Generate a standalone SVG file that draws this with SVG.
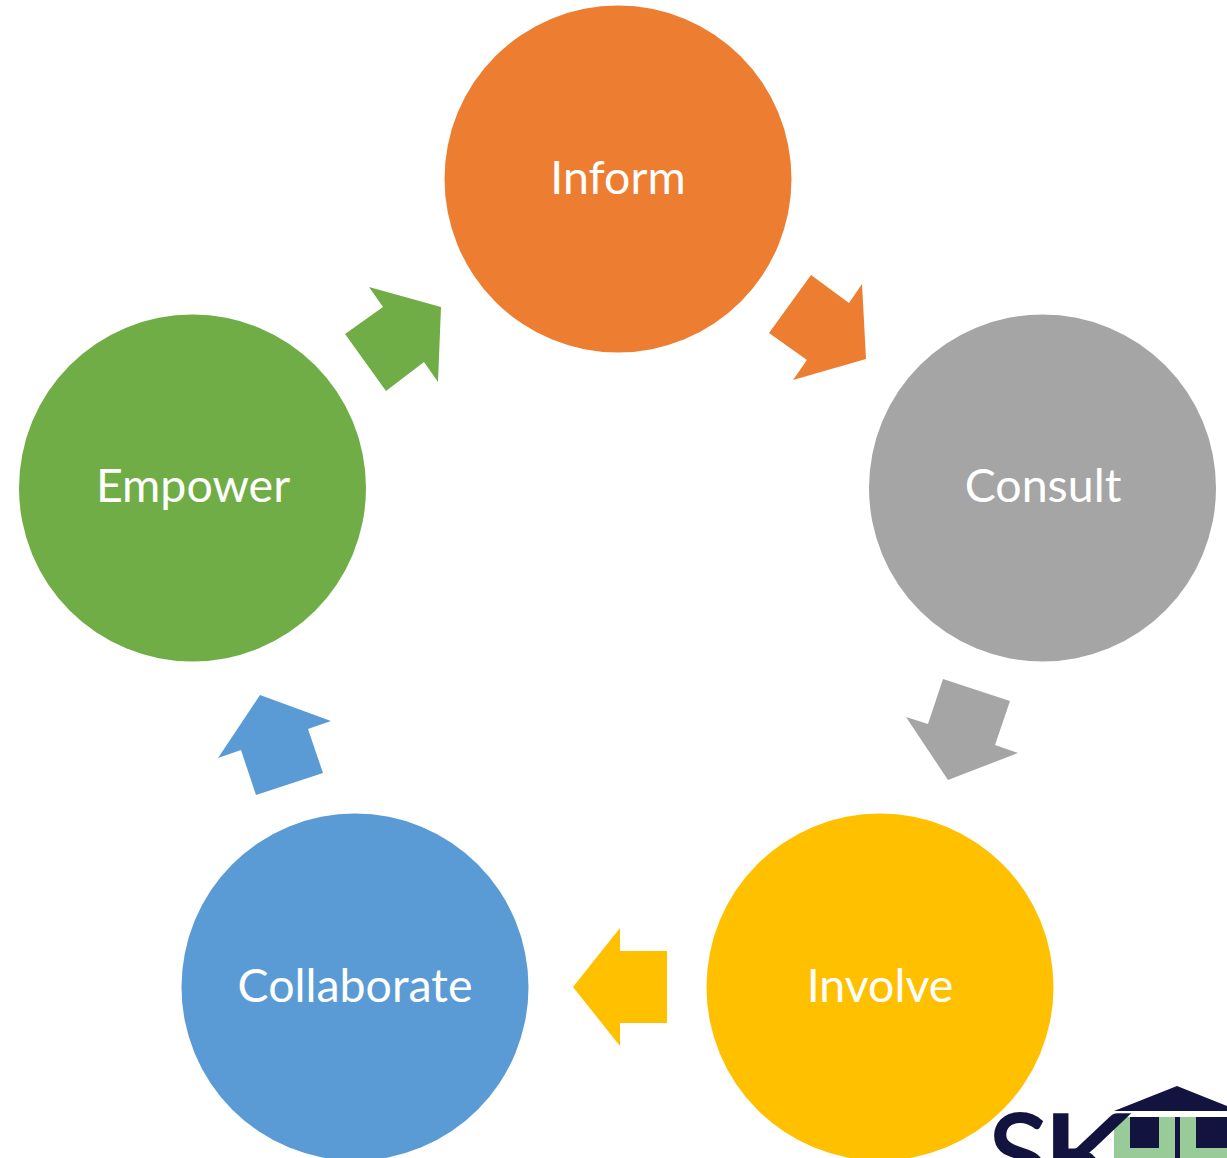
<svg xmlns="http://www.w3.org/2000/svg" width="1227" height="1158" viewBox="0 0 1227 1158">
<style>
.l{font-family:Lato,"Open Sans",sans-serif;font-size:46.500px;fill:#fff;text-anchor:middle}
.navy{fill:#12143f}
.sk{font-family:Lato,sans-serif;font-size:112px;font-weight:400;stroke:#12143f;stroke-width:2px}
</style>
<rect width="1227" height="1158" fill="#fff"/>
<g id="connectors">
<polygon fill="#ed7d31" points="811,275 849,303 862,284 866,359 793,380 807,360 769,333"/>
<polygon fill="#a5a5a5" points="943,679 1010,701 995,745 1018,753 948,780 906,717 928,724"/>
<polygon fill="#ffc000" points="667,951 667,1023 620,1023 620,1046 573,987 620,928 620,951"/>
<polygon fill="#5b9bd5" points="323,773 256,795 241,750 218,758 260,695 331,721 308,729"/>
<polygon fill="#70ad47" points="345,334 383,307 369,287 441,307 438,382 424,362 386,391"/>
</g>
<g id="inform"><circle cx="618" cy="179" r="173.500" fill="#ed7d31"/><text class="l" x="618" y="194">Inform</text></g>
<g id="consult"><circle cx="1042.500" cy="488" r="173.500" fill="#a5a5a5"/><text class="l" x="1043" y="502">Consult</text></g>
<g id="involve"><circle cx="880" cy="987" r="173.500" fill="#ffc000"/><text class="l" x="880" y="1002">Involve</text></g>
<g id="collaborate"><circle cx="355" cy="987" r="173.500" fill="#5b9bd5"/><text class="l" x="355" y="1002">Collaborate</text></g>
<g id="empower"><circle cx="192.500" cy="488" r="173.500" fill="#70ad47"/><text class="l" x="193" y="502">Empower</text></g>
<g id="logo">
<rect x="1114" y="1117" width="113" height="41" fill="#98cb98"/>
<polygon class="navy" points="1114,1111 1177,1086 1227,1106 1227,1111"/>
<rect class="navy" x="1130" y="1117" width="29" height="31"/>
<rect class="navy" x="1175" y="1117" width="5" height="41"/>
<rect class="navy" x="1196" y="1117" width="31" height="31"/>
<text class="navy sk" x="988" y="1195">S</text>
<text class="navy sk" transform="translate(1042,1195) scale(1.2,1)">K</text>
</g>
</svg>
